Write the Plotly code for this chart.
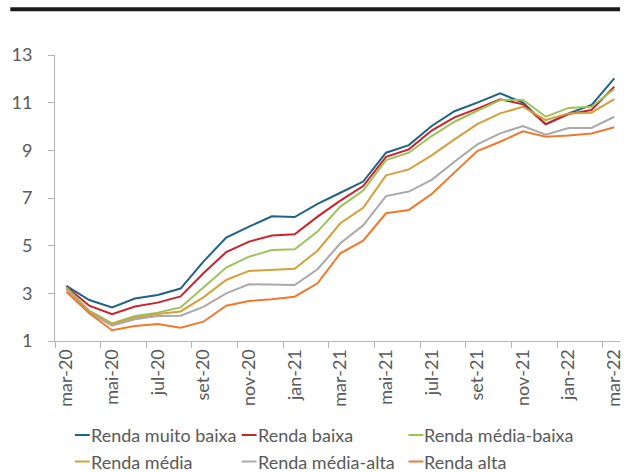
import plotly.graph_objects as go

months = ["mar-20", "abr-20", "mai-20", "jun-20", "jul-20", "ago-20", "set-20", "out-20",
          "nov-20", "dez-20", "jan-21", "fev-21", "mar-21", "abr-21", "mai-21", "jun-21",
          "jul-21", "ago-21", "set-21", "out-21", "nov-21", "dez-21", "jan-22", "fev-22", "mar-22"]

muito_baixa = [3.31, 2.72, 2.41, 2.78, 2.93, 3.20, 4.33, 5.34, 5.80, 6.23, 6.20, 6.75, 7.22,
               7.69, 8.90, 9.22, 10.02, 10.64, 11.00, 11.39, 11.00, 10.10, 10.55, 10.90, 12.02]
baixa = [3.28, 2.48, 2.12, 2.45, 2.61, 2.87, 3.84, 4.73, 5.17, 5.43, 5.48, 6.22, 6.89,
         7.50, 8.73, 9.04, 9.83, 10.38, 10.75, 11.14, 10.93, 10.09, 10.52, 10.69, 11.67]
media_baixa = [3.25, 2.27, 1.74, 2.05, 2.19, 2.41, 3.25, 4.08, 4.54, 4.82, 4.85, 5.59, 6.64,
               7.31, 8.59, 8.90, 9.60, 10.20, 10.66, 11.11, 11.11, 10.41, 10.78, 10.83, 11.57]
media = [3.21, 2.23, 1.71, 1.98, 2.13, 2.24, 2.83, 3.56, 3.94, 3.98, 4.03, 4.79, 5.94,
         6.59, 7.95, 8.20, 8.79, 9.46, 10.10, 10.55, 10.83, 10.27, 10.55, 10.58, 11.15]
media_alta = [3.17, 2.19, 1.64, 1.91, 2.05, 2.06, 2.43, 3.00, 3.38, 3.38, 3.35, 4.01, 5.10,
              5.85, 7.08, 7.27, 7.76, 8.52, 9.25, 9.71, 10.02, 9.66, 9.94, 9.94, 10.41]
alta = [3.07, 2.16, 1.45, 1.63, 1.71, 1.56, 1.81, 2.48, 2.68, 2.75, 2.86, 3.42, 4.68,
        5.21, 6.36, 6.50, 7.17, 8.09, 8.97, 9.36, 9.80, 9.57, 9.62, 9.71, 9.97]

series_names = ["Renda muito baixa", "Renda baixa", "Renda média-baixa",
                "Renda média", "Renda média-alta", "Renda alta"]
series_values = [muito_baixa, baixa, media_baixa, media, media_alta, alta]
colors = ["#1f6385", "#cc2229", "#9bc35a", "#d4a03a", "#a9a9a9", "#ef7a2e"]

W, H = 624, 472
L, R, T, B = 55, 0, 55, 131
PW, PH = W - L - R, H - T - B

def px(x):
    return (x - L) / PW

def py(y):
    return (H - B - y) / PH

FONT = "Lato"
TXT = "#595959"

fig = go.Figure()
for name, vals, c in zip(series_names, series_values, colors):
    fig.add_trace(go.Scatter(x=months, y=vals, mode="lines", name=name,
                             line=dict(color=c, width=2), showlegend=False))

shapes = [dict(type="rect", xref="paper", yref="paper",
               x0=px(10), x1=px(624), y0=py(11.3), y1=py(7.3),
               fillcolor="#1a1a1a", line=dict(width=0))]
annotations = []
legend_cols = [75, 243, 411]
legend_rows = [435, 461.5]
for k, (name, c) in enumerate(zip(series_names, colors)):
    r, col = divmod(k, 3)
    x0 = legend_cols[col]
    yy = legend_rows[r]
    shapes.append(dict(type="line", xref="paper", yref="paper",
                       x0=px(x0), x1=px(x0 + 15), y0=py(yy), y1=py(yy),
                       line=dict(color=c, width=2)))
    annotations.append(dict(xref="paper", yref="paper", x=px(x0 + 15), y=py(yy),
                            text=name, showarrow=False, xanchor="left", yanchor="middle",
                            borderpad=0, font=dict(family=FONT, size=18, color=TXT)))

fig.update_layout(
    width=W, height=H,
    margin=dict(l=L, r=R, t=T, b=B),
    paper_bgcolor="white", plot_bgcolor="white",
    shapes=shapes, annotations=annotations,
    xaxis=dict(type="category", range=[-0.5, 24.25], tickmode="linear", tick0=0, dtick=2,
               tickson="boundaries", ticks="outside", ticklen=6, tickcolor="#b4b4b4",
               showline=True, linecolor="#b4b4b4", linewidth=1, showgrid=False,
               tickangle=-90, tickfont=dict(family=FONT, size=18, color=TXT),
               zeroline=False),
    yaxis=dict(range=[1, 13], tickmode="linear", tick0=1, dtick=2,
               ticks="outside", ticklen=6, tickcolor="#b4b4b4",
               showline=True, linecolor="#b4b4b4", linewidth=1, showgrid=False,
               zeroline=False, ticklabelstandoff=12,
               tickfont=dict(family=FONT, size=18, color=TXT)),
)

fig.write_html("out.html", config={"displayModeBar": False},
               post_script="document.body.style.margin='0';document.body.style.overflow='hidden';")
